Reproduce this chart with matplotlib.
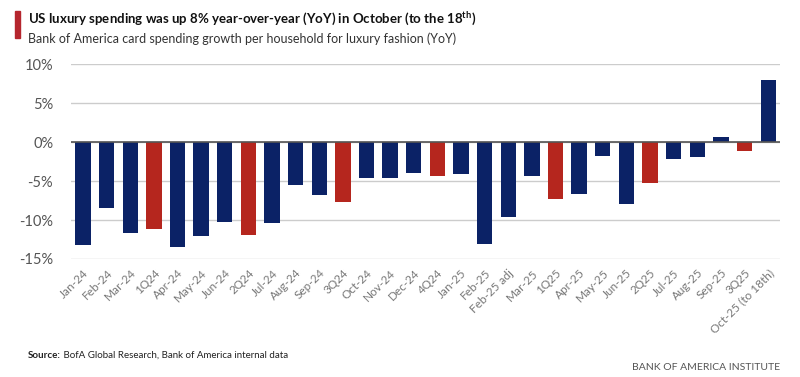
import matplotlib.pyplot as plt
import numpy as np
from matplotlib.patches import Rectangle

plt.rcParams['font.family'] = ['Lato', 'DejaVu Sans']
plt.rcParams['mathtext.fontset'] = 'custom'
plt.rcParams['mathtext.rm'] = 'Lato'
plt.rcParams['mathtext.bf'] = 'Lato:bold'

# categories and YoY growth (%)
labels = ['Jan-24', 'Feb-24', 'Mar-24', '1Q24', 'Apr-24', 'May-24', 'Jun-24', '2Q24',
          'Jul-24', 'Aug-24', 'Sep-24', '3Q24', 'Oct-24', 'Nov-24', 'Dec-24', '4Q24',
          'Jan-25', 'Feb-25', 'Feb-25 adj', 'Mar-25', '1Q25', 'Apr-25', 'May-25', 'Jun-25',
          '2Q25', 'Jul-25', 'Aug-25', 'Sep-25', '3Q25', 'Oct-25 (to 18th)']
values = [-13.2, -8.5, -11.7, -11.1, -13.4, -12.1, -10.2, -11.9,
          -10.4, -5.5, -6.8, -7.7, -4.6, -4.6, -4.0, -4.3,
          -4.1, -13.1, -9.6, -4.3, -7.3, -6.7, -1.8, -8.0,
          -5.3, -2.2, -1.9, 0.6, -1.2, 7.9]
yticks = [-15, -10, -5, 0, 5, 10]

navy = '#0B2266'
red = '#B5261E'
# quarterly aggregates are red
bar_colors = [red if 'Q' in lab else navy for lab in labels]

fig = plt.figure(figsize=(8, 3.77), dpi=100)
ax = fig.add_axes([0.089, 0.313, 0.886, 0.517])

x = np.arange(len(labels))
ax.bar(x, values, width=0.65, color=bar_colors, zorder=3)

ax.set_xlim(-0.5, len(labels) - 0.5)
ax.set_ylim(-15, 10)
ax.set_yticks(yticks)
ax.set_yticklabels([f'{v}%' for v in yticks], fontsize=10.5, color='#555555')
ax.yaxis.grid(True, color='#cccccc', lw=1, zorder=0)
ax.axhline(0, color='#555555', lw=1.2, zorder=4)

ax.set_xticks(x)
ax.set_xticklabels(labels, rotation=45, ha='right', rotation_mode='anchor',
                   fontsize=8.5, color='#777777')
ax.tick_params(axis='both', length=0)
ax.tick_params(axis='x', pad=6)
ax.tick_params(axis='y', pad=13)
for s in ax.spines.values():
    s.set_visible(False)

# header
fig.patches.append(Rectangle((15 / 800, 1 - 38 / 377), 5 / 800, 27 / 377,
                             transform=fig.transFigure, color='#B5262E'))
fig.text(28 / 800, 1 - 24 / 377,
         r'US luxury spending was up 8% year-over-year (YoY) in October (to the 18$^{\mathbf{th}}$)',
         fontsize=9.5, fontweight='bold', color='#111111', va='baseline')
fig.text(28 / 800, 1 - 43 / 377,
         'Bank of America card spending growth per household for luxury fashion (YoY)',
         fontsize=9, color='#333333', va='baseline')

# footer
src = fig.text(28 / 800, 1 - 358 / 377, 'Source:', fontsize=7, fontweight='bold',
               color='#222222', va='baseline')
ax.annotate(' BofA Global Research, Bank of America internal data', xy=(1, 0), xycoords=src,
            fontsize=7, color='#222222', va='bottom', ha='left', annotation_clip=False)
fig.text(780 / 800, 1 - 370 / 377, 'BANK OF AMERICA INSTITUTE',
         fontsize=7.5, color='#555555', ha='right', va='baseline')

fig.savefig('out.png', dpi=100)
